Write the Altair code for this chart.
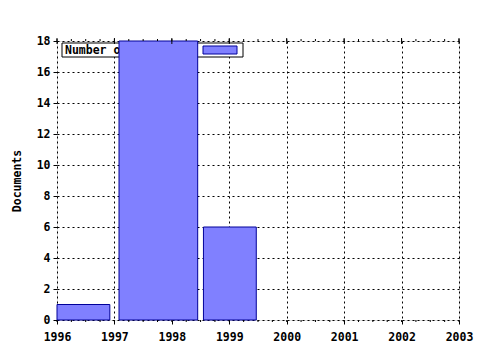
import altair as alt
import pandas as pd

# data
bar_start = [1996.0, 1997.08, 1998.55]
bar_end = [1996.92, 1998.45, 1999.47]
doc_counts = [1, 18, 6]
year_ticks = [1996, 1997, 1998, 1999, 2000, 2001, 2002, 2003]
minor_ticks = [1996 + i * 0.25 for i in range(29)]
y_ticks = [0, 2, 4, 6, 8, 10, 12, 14, 16, 18]
legend_label = "Number of documents"

FONT = "DejaVu Sans Mono"
W, H = 402, 279

bars_df = pd.DataFrame({"start": bar_start, "end": bar_end, "count": doc_counts})
minor_df = pd.DataFrame({"start": minor_ticks})
major_df = pd.DataFrame({"start": year_ticks})

xscale = alt.Scale(domain=[1996, 2003], nice=False, zero=False)
yscale = alt.Scale(domain=[0, 18], nice=False)

x_axis = alt.Axis(values=year_ticks, format="d", title=None, grid=True,
                  gridColor="black", gridDash=[2, 3], gridWidth=1,
                  tickColor="black", tickSize=4, domain=False,
                  labelFont=FONT, labelFontWeight="bold", labelFontSize=11.5,
                  labelColor="black", labelPadding=7, labelFlush=False,
                  labelOverlap=False)
y_axis = alt.Axis(values=y_ticks, title="Documents", grid=True,
                  gridColor="black", gridDash=[2, 3], gridWidth=1,
                  tickColor="black", tickSize=4, domain=False,
                  labelFont=FONT, labelFontWeight="bold", labelFontSize=11.5,
                  labelColor="black", labelPadding=3, labelOverlap=False,
                  titleFont=FONT, titleFontWeight="bold", titleFontSize=11.5,
                  titleColor="black", titlePadding=14)

X = alt.X("start:Q", scale=xscale, axis=x_axis)

# legend box (drawn below bars)
leg_box = alt.Chart(pd.DataFrame({"a": [0]})).mark_rect(
    fill="white", stroke="black", strokeWidth=1).encode(
    x=alt.value(5), x2=alt.value(186), y=alt.value(2), y2=alt.value(16))
leg_text = alt.Chart(pd.DataFrame({"label": [legend_label]})).mark_text(
    align="left", baseline="middle", font=FONT, fontWeight="bold",
    fontSize=11.5, color="black").encode(
    x=alt.value(8), y=alt.value(9.5), text="label:N")
leg_swatch = alt.Chart(pd.DataFrame({"a": [0]})).mark_rect(
    fill="#8080ff", stroke="#000099", strokeWidth=1).encode(
    x=alt.value(146), x2=alt.value(180), y=alt.value(5), y2=alt.value(13))

bars = alt.Chart(bars_df).mark_rect(
    fill="#8080ff", stroke="#000099", strokeWidth=1).encode(
    x=X,
    x2="end:Q",
    y=alt.Y("count:Q", scale=yscale, axis=y_axis),
    y2=alt.datum(0),
)

# minor ticks top and bottom
minor_top = alt.Chart(minor_df).mark_rule(color="black").encode(
    x=X, y=alt.value(-2), y2=alt.value(0))
minor_bot = alt.Chart(minor_df).mark_rule(color="black").encode(
    x=X, y=alt.value(H), y2=alt.value(H + 2))
major_top = alt.Chart(major_df).mark_rule(color="black").encode(
    x=X, y=alt.value(-3), y2=alt.value(3))

chart = alt.layer(
    leg_box, leg_text, leg_swatch, bars, minor_top, minor_bot, major_top
).properties(
    width=W, height=H,
    padding={"left": 57, "top": 41, "right": 21, "bottom": 30},
    autosize=alt.AutoSizeParams(type="none"),
).configure_view(
    stroke="black", strokeWidth=1
).configure(background="white")

chart.save("out.html", embed_options={"renderer": "svg", "actions": False})
